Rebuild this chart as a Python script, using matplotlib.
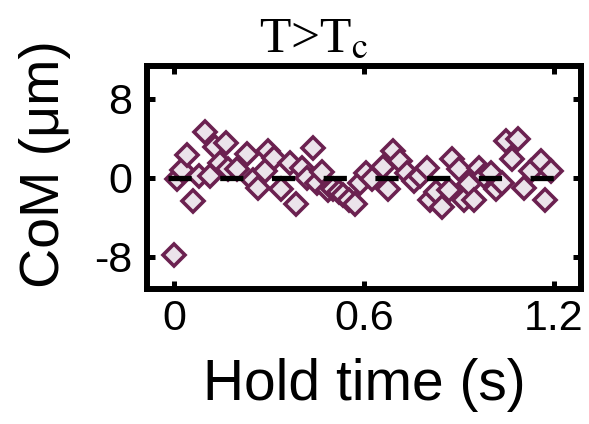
import matplotlib
matplotlib.use("Agg")
import matplotlib.pyplot as plt

# hold time (s) and centre-of-mass displacement (um)
hold_time = [0.000, 0.010, 0.024, 0.042, 0.061, 0.079, 0.096, 0.113, 0.128, 0.146,
             0.163, 0.170, 0.200, 0.230, 0.248, 0.265, 0.286, 0.296, 0.317, 0.339,
             0.367, 0.386, 0.404, 0.420, 0.439, 0.450, 0.468, 0.487, 0.503, 0.520,
             0.535, 0.553, 0.571, 0.587, 0.605, 0.624, 0.659, 0.677, 0.693, 0.714,
             0.736, 0.757, 0.778, 0.799, 0.810, 0.829, 0.847, 0.868, 0.878, 0.900,
             0.915, 0.931, 0.947, 0.963, 0.980, 1.000, 1.016, 1.037, 1.050, 1.069,
             1.087, 1.106, 1.127, 1.159, 1.172, 1.190]
com = [-7.8, -0.1, 0.8, 2.3, -2.4, 0.2, 4.6, 0.2, 3.1, 1.5,
       3.5, 0.9, 0.9, 2.4, -0.2, -1.0, 0.7, 2.7, 2.0, -1.2,
       1.5, -2.7, 1.0, 0.0, 3.0, -0.5, 0.6, -1.3, -1.1, -1.5,
       -1.8, -2.3, -2.7, -0.5, 0.5, -0.1, 1.1, -1.1, 2.7, 1.7,
       0.5, -0.3, 0.2, 1.0, -2.3, -1.5, -3.0, -1.3, 1.9, 0.9,
       -2.3, -0.6, -2.3, 1.0, 0.2, 0.5, -1.1, -0.5, 3.7, 1.9,
       3.9, -1.0, 0.7, 1.7, -2.3, 0.7]

xticks = [0, 0.6, 1.2]
xticklabels = ["0", "0.6", "1.2"]
yticks = [-8, 0, 8]
yticklabels = ["-8", "0", "8"]
zero_line_t = [-0.02, 1.206]

plt.rcParams['font.family'] = ['Liberation Sans', 'DejaVu Sans']
plt.rcParams['mathtext.fontset'] = 'stix'

fig = plt.figure(figsize=(5.89, 4.24), dpi=100)
ax = fig.add_axes([0.25, 0.318, 0.736, 0.526])

ax.plot(zero_line_t, [0, 0], color='black', lw=3.8, ls=(0, (4.4, 5.4)), zorder=3)
ax.plot(hold_time, com, ls='none', marker='D', ms=11.5, mew=2.6,
        mec='#6b2150', mfc='#ebe3ea', zorder=2)

ax.set_xlim(-0.085, 1.285)
ax.set_ylim(-11.3, 11.3)
ax.set_xticks(xticks)
ax.set_xticklabels(xticklabels)
ax.set_yticks(yticks)
ax.set_yticklabels(yticklabels)

for s in ax.spines.values():
    s.set_linewidth(4.3)
ax.tick_params(direction='in', length=6, width=3.6, top=True, right=True,
               labelsize=31)
ax.tick_params(axis='x', pad=7)
ax.tick_params(axis='y', pad=11)

ax.set_xlabel('Hold time (s)', fontsize=41, labelpad=14)
ax.set_ylabel('CoM (μm)', fontsize=40)
ax.yaxis.set_label_coords(-0.175, 0.56)
ax.set_title(r'T>T$_\mathrm{c}$', fontsize=37, family='Liberation Serif',
             x=0.385, pad=10)

fig.savefig('out.png', dpi=100)
